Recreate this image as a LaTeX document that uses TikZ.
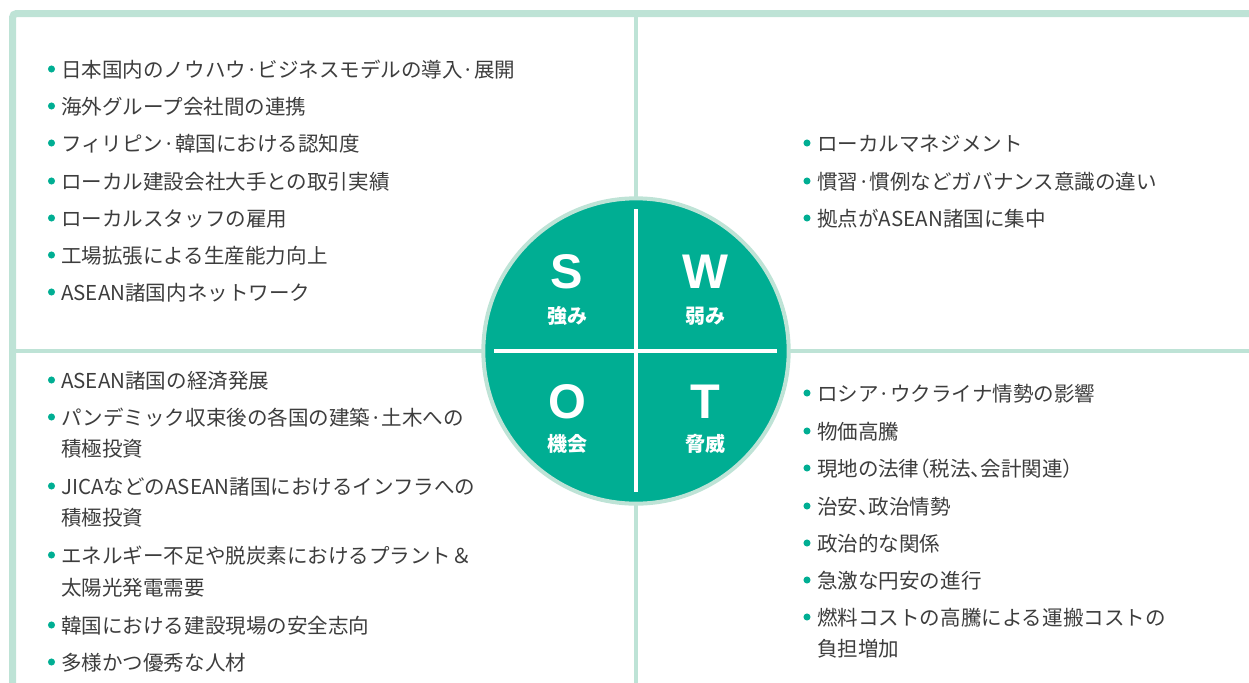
\documentclass[tikz,border=0pt]{standalone}
\usepackage{fontspec}
\newfontfamily\jp{Noto Sans CJK JP}
\newfontfamily\jpp{Noto Sans CJK JP}[RawFeature=+palt]
\newfontfamily\lat{Liberation Sans}
\definecolor{teal0}{HTML}{00AE93}
\definecolor{mint}{HTML}{BEE3D6}
\definecolor{txt}{HTML}{3D3D3D}
\begin{document}
\begin{tikzpicture}[x=0.75pt,y=-0.75pt,
  txtline/.style={anchor=base west, inner sep=0, text=txt, font=\jp\fontsize{15.4}{18}\selectfont},
  ptxtline/.style={txtline, font=\jpp\fontsize{15.4}{18}\selectfont},
  dot/.style={circle, fill=teal0, inner sep=0, minimum size=5.3pt},
  big/.style={text=white, inner sep=0, font=\lat\bfseries\fontsize{36.5}{40}\selectfont},
  sub/.style={text=white, inner sep=0, font=\jp\bfseries\fontsize{15}{18}\selectfont},
  frame/.style={draw=mint, line width=5.25pt},
  divider/.style={draw=mint, line width=3pt},
  cross/.style={draw=white, line width=3pt}]
\useasboundingbox (0,0) rectangle (1249,682);
\begin{scope}
\clip (0,0) rectangle (1249,682);
\draw[frame, rounded corners=3pt] (12.5,13.5) rectangle (1275,705);
\coordinate (vt) at (636,17);
\coordinate (vb) at (636,690);
\coordinate (hl) at (16,351);
\coordinate (hr) at (1260,351);
\draw[divider] (vt) -- (vb);
\draw[divider] (hl) -- (hr);
\end{scope}
% circle
\node[circle, fill=teal0, draw=mint, line width=3pt, minimum size=229pt, inner sep=0] (c) at (636,351) {};
\coordinate (cl) at (494,351);
\coordinate (cr) at (777,351);
\coordinate (ct) at (636,209);
\coordinate (cb) at (636,492);
\draw[cross] (cl) -- (cr);
\draw[cross] (ct) -- (cb);
\node[big] (S) at (567,272) {S};
\node[sub] (Sl) at (567,316) {強み};
\node[big] (W) at (705,272) {W};
\node[sub] (Wl) at (705,316) {弱み};
\node[big] (O) at (567,402) {O};
\node[sub] (Ol) at (567,444) {機会};
\node[big] (T) at (705,402) {T};
\node[sub] (Tl) at (705,444) {脅威};
% Strengths
\node[dot] (s1d) at (51.5,69) {};  \node[txtline] (s1) at (61,77) {日本国内のノウハウ·ビジネスモデルの導入·展開};
\node[dot] (s2d) at (51.5,106) {}; \node[txtline] (s2) at (61,114) {海外グループ会社間の連携};
\node[dot] (s3d) at (51.5,143) {}; \node[txtline] (s3) at (61,151) {フィリピン·韓国における認知度};
\node[dot] (s4d) at (51.5,181) {}; \node[txtline] (s4) at (61,189) {ローカル建設会社大手との取引実績};
\node[dot] (s5d) at (51.5,218) {}; \node[txtline] (s5) at (61,226) {ローカルスタッフの雇用};
\node[dot] (s6d) at (51.5,255) {}; \node[txtline] (s6) at (61,263) {工場拡張による生産能力向上};
\node[dot] (s7d) at (51.5,292) {}; \node[txtline] (s7) at (61,300) {ASEAN諸国内ネットワーク};
% Weaknesses
\node[dot] (w1d) at (807,143) {}; \node[txtline] (w1) at (817,151) {ローカルマネジメント};
\node[dot] (w2d) at (807,181) {}; \node[txtline] (w2) at (817,189) {慣習·慣例などガバナンス意識の違い};
\node[dot] (w3d) at (807,218) {}; \node[txtline] (w3) at (817,226) {拠点がASEAN諸国に集中};
% Opportunities
\node[dot] (o1d) at (51.5,380) {}; \node[txtline] (o1) at (61,388) {ASEAN諸国の経済発展};
\node[dot] (o2d) at (51.5,417) {}; \node[txtline] (o2) at (61,425) {パンデミック収束後の各国の建築·土木への};
\node[txtline] (o2b) at (61,456) {積極投資};
\node[dot] (o3d) at (51.5,486) {}; \node[txtline] (o3) at (61,494) {JICAなどのASEAN諸国におけるインフラへの};
\node[txtline] (o3b) at (61,525) {積極投資};
\node[dot] (o4d) at (51.5,555) {}; \node[txtline] (o4) at (61,563) {エネルギー不足や脱炭素におけるプラント＆};
\node[txtline] (o4b) at (61,595) {太陽光発電需要};
\node[dot] (o5d) at (51.5,625) {}; \node[txtline] (o5) at (61,633) {韓国における建設現場の安全志向};
\node[dot] (o6d) at (51.5,662) {}; \node[txtline] (o6) at (61,670) {多様かつ優秀な人材};
% Threats
\node[dot] (t1d) at (807,393) {}; \node[txtline] (t1) at (817,401) {ロシア·ウクライナ情勢の影響};
\node[dot] (t2d) at (807,431) {}; \node[txtline] (t2) at (817,439) {物価高騰};
\node[dot] (t3d) at (807,468) {}; \node[ptxtline] (t3) at (817,476) {現地の法律（税法、会計関連）};
\node[dot] (t4d) at (807,506) {}; \node[ptxtline] (t4) at (817,514) {治安、政治情勢};
\node[dot] (t5d) at (807,543) {}; \node[txtline] (t5) at (817,551) {政治的な関係};
\node[dot] (t6d) at (807,580) {}; \node[txtline] (t6) at (817,588) {急激な円安の進行};
\node[dot] (t7d) at (807,617) {}; \node[txtline] (t7) at (817,625) {燃料コストの高騰による運搬コストの};
\node[txtline] (t7b) at (817,656) {負担増加};
\end{tikzpicture}
\end{document}
